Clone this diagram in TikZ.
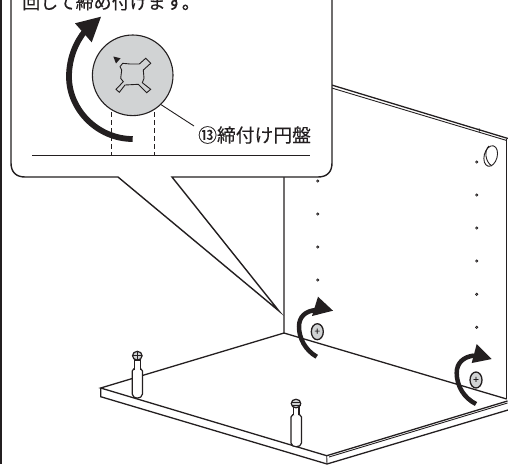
\documentclass[tikz,border=0pt]{standalone}
\usepackage{fontspec}
\setmainfont[FakeBold=0.25]{Noto Sans CJK JP}
\definecolor{discgray}{RGB}{209,211,212}
\definecolor{inkblack}{RGB}{35,31,32}
\tikzset{
	edgeline/.style={draw=inkblack, line width=1.3pt},
	thinline/.style={draw=inkblack, line width=0.9pt},
	bolt/.style={draw=inkblack, line width=1.2pt, fill=white},
	turnline/.style={draw=inkblack, line width=4.5pt},
	bigturnline/.style={draw=inkblack, line width=5.8pt},
	peghole/.style={draw=inkblack, line width=0.7pt, fill=gray!60},
	caption/.style={inner sep=0pt, text=inkblack, font=\fontsize{18}{18}\selectfont}
}

\begin{document}
\begin{tikzpicture}[x=1pt, y=-1pt]
	\useasboundingbox (0, 0) rectangle (508, 464);
	\clip (0, 0) rectangle (508, 464);
	\draw[edgeline] (1, 0) -- (1, 464);
	% side panel
	\draw[edgeline] (284, 170) -- (284, 333) -- (506.7, 399);
	\draw[edgeline] (330, 84.5) -- (508, 138.5);
	\draw[thinline] (330, 87.5) -- (506.7, 140.5);
	\draw[edgeline] (506.7, 139) -- (506.7, 399);
	\draw[thinline] (479, 128.5) -- (479.5, 131.5);
	\draw[thinline, rotate around={-15:(490.7, 156)}] (490.7, 156) ellipse (6.5 and 10.5);
	\draw[thinline] (489, 146) .. controls (484, 150) and (485, 162) .. (492, 166);
	\foreach \y in {181, 214, 247, 280, 313}
		\draw[peghole] (317.7, \y) circle (1.2);
	\foreach \y in {162, 195, 228, 261, 294.3, 327.3}
		\draw[peghole] (476.7, \y) circle (1.2);
	% floor board
	\draw[edgeline] (284, 333) -- (100.7, 388) -- (326.7, 455.7) -- (507.5, 401);
	\draw[thinline] (329, 457) -- (507.5, 403);
	\draw[edgeline] (100.7, 388) -- (100.7, 396.7) -- (327, 464) -- (508, 410);
	\draw[thinline] (326.7, 455.7) -- (327, 464);
	% left peg
	\draw[bolt] (132.2, 371) -- (132.2, 394) .. controls (132.6, 399.5) and (142, 399.5) .. (142.5, 394) -- (142.5, 371) .. controls (142, 367) and (132.6, 367) .. (132.2, 371) -- cycle;
	\draw[bolt] (134.5, 370) -- (134.5, 360) -- (140.2, 360) -- (140.2, 370);
	\draw[bolt, fill=discgray] (137.3, 355.7) ellipse (4.8 and 4.4);
	\draw[thinline] (133, 355.7) -- (142, 355.7);
	\draw[thinline] (137.3, 351.5) -- (137.3, 360);
	% right peg
	\draw[bolt] (291, 417) -- (291, 443) .. controls (291.5, 448) and (301, 448) .. (301.5, 443) -- (301.5, 417) .. controls (301, 413) and (291.5, 413) .. (291, 417) -- cycle;
	\draw[bolt] (293.3, 415) -- (293.3, 407) -- (299, 407) -- (299, 415);
	\draw[bolt, fill=discgray] (296, 403.5) ellipse (4.8 and 4.3);
	\draw[thinline] (291.5, 402) -- (300.5, 402);
	\draw[thinline] (291.5, 405) -- (300.5, 405);
	% screws on panel
	\draw[edgeline, fill=discgray] (317.3, 331.7) ellipse (6 and 8);
	\node[inner sep=0pt, text=inkblack, font=\fontsize{10}{10}\selectfont] (screwa) at (317.3, 331.7) {+};
	\draw[edgeline, fill=discgray] (476, 380) ellipse (6 and 8);
	\node[inner sep=0pt, text=inkblack, font=\fontsize{10}{10}\selectfont] (screwb) at (476, 380) {+};
	% turning arrows
	\draw[turnline] (316.7, 356.7) .. controls (305, 350) and (299, 338) .. (299, 326.7) .. controls (299, 317) and (305, 311) .. (316, 310);
	\fill[inkblack] (333, 310.7) -- (318, 296.7) -- (312, 316) -- cycle;
	\draw[turnline] (476, 404) .. controls (464, 398) and (456.7, 386) .. (456.7, 373) .. controls (456.7, 363) and (463, 357) .. (474, 355.5);
	\fill[inkblack] (491.7, 359) -- (476.7, 344) -- (471.7, 363) -- cycle;
	% callout
	\draw[edgeline, fill=white, line width=1.4pt] (11, -5) -- (11, 163) .. controls (11, 172) and (16, 177) .. (25, 177) -- (118, 177) -- (279, 311) -- (172, 177) -- (318, 177) .. controls (327, 177) and (332, 172) .. (332, 163) -- (332, -5);
	\node[caption, anchor=base west] (topnote) at (22, 9) {回して締め付けます。};
	\draw[thinline] (32, 155.3) -- (310, 155.3);
	\draw[thinline, dash pattern=on 5pt off 3pt] (111.7, 112) -- (111.7, 155);
	\draw[thinline, dash pattern=on 5pt off 3pt] (154.3, 112) -- (154.3, 155);
	\node[circle, draw=inkblack, fill=discgray, line width=1.1pt, minimum size=80.6pt, inner sep=0pt] (disc) at (132.7, 75.3) {};
	\draw[thinline, fill=discgray] (122.7, 63.3) -- (130, 64) -- (139.3, 64) -- (145.7, 58.3) -- (150.7, 63.3) -- (143.3, 70) -- (144, 78.3) -- (142.3, 82.7) -- (150.7, 89.3) -- (146.7, 92.7) -- (138.3, 84.3) -- (125, 85) -- (119.3, 92.3) -- (116, 89.3) -- (123.3, 81.7) -- (120.7, 78.3) -- (121.7, 70) -- (120, 66.7) -- cycle;
	\fill[inkblack] (113.3, 56.5) -- (120.5, 58.3) -- (116, 63.5) -- cycle;
	\draw[bigturnline] (132.7, 139) .. controls (98, 139) and (69, 110) .. (69, 76.7) .. controls (69, 58) and (76, 42) .. (85, 31);
	\fill[inkblack] (101, 16.7) -- (75, 23.3) -- (91.7, 42.3) -- cycle;
	\node[caption, anchor=west, font=\fontsize{18.8}{18.8}\selectfont] (disclabel) at (198, 135) {⑬締付け円盤};
	\coordinate (leaderend) at (194, 126);
	\draw[thinline] (disc.-46) -- (leaderend);
\end{tikzpicture}
\end{document}
